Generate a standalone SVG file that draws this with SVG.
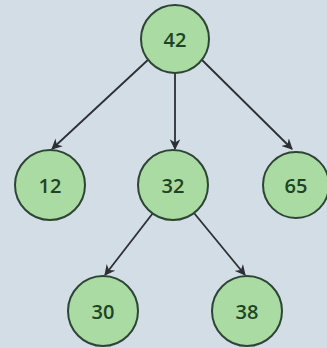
<svg xmlns="http://www.w3.org/2000/svg" width="327" height="348" viewBox="0 0 327 348">
<style>
.bg{fill:#d2dde6}
.n circle{fill:#a9dba2;stroke:#2e4436;stroke-width:2}
.n text{font-family:"Open Sans","DejaVu Sans",sans-serif;font-size:20px;font-weight:600;fill:#1e4427;text-anchor:middle;dominant-baseline:central}
.e line{stroke:#2c2f33;stroke-width:1.8}
</style>
<defs>
<marker id="ah" viewBox="0 0 10 10" refX="9" refY="5" markerWidth="6" markerHeight="6" orient="auto" markerUnits="strokeWidth">
<path d="M0,0 L10,5 L0,10 L3,5 z" fill="#2c2f33"/>
</marker>
</defs>
<rect class="bg" width="327" height="348"/>
<g id="edges" class="e">
<line x1="150" y1="58" x2="52" y2="149" marker-end="url(#ah)"/>
<line x1="175" y1="73" x2="175" y2="149" marker-end="url(#ah)"/>
<line x1="200" y1="58" x2="292" y2="149" marker-end="url(#ah)"/>
<line x1="153" y1="213" x2="105" y2="275" marker-end="url(#ah)"/>
<line x1="194" y1="213" x2="245" y2="275" marker-end="url(#ah)"/>
</g>
<g id="n42" class="n"><circle cx="175" cy="39" r="34"/><text x="175" y="39">42</text></g>
<g id="n12" class="n"><circle cx="50" cy="185" r="35"/><text x="50" y="185">12</text></g>
<g id="n32" class="n"><circle cx="173" cy="185" r="35"/><text x="173" y="185">32</text></g>
<g id="n65" class="n"><circle cx="296" cy="185" r="33"/><text x="296" y="185">65</text></g>
<g id="n30" class="n"><circle cx="103" cy="311" r="35"/><text x="103" y="311">30</text></g>
<g id="n38" class="n"><circle cx="247" cy="311" r="35"/><text x="247" y="311">38</text></g>
</svg>
